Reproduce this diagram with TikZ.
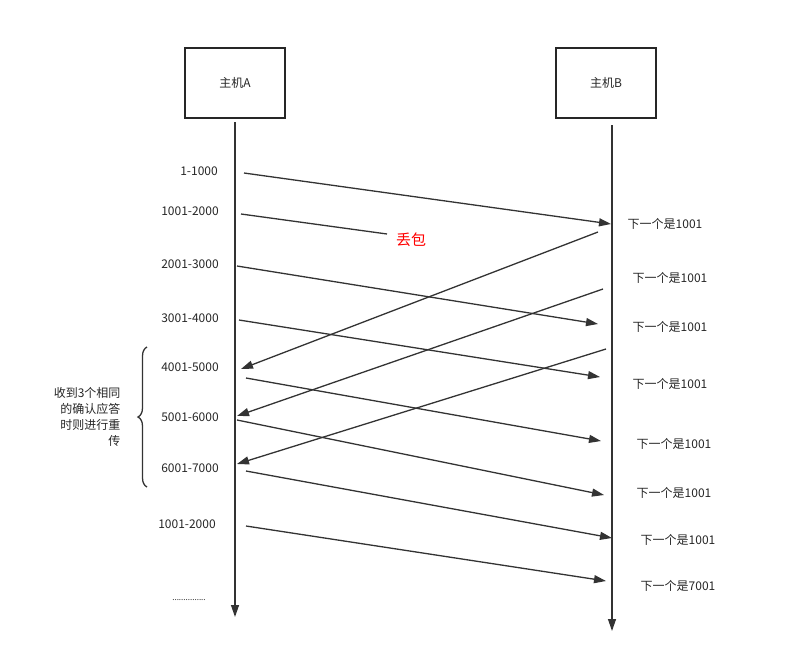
\documentclass[tikz,border=0pt]{standalone}
\usepackage{fontspec}
\setmainfont{Noto Sans CJK SC}
\usetikzlibrary{arrows.meta,decorations.pathreplacing}
\begin{document}
\begin{tikzpicture}[x=1pt,y=-1pt,
  every node/.style={font=\fontsize{12}{14}\selectfont, text=black!85},
  box/.style={draw=black!85,line width=1.3pt,minimum width=100pt,minimum height=70pt},
  life/.style={draw=black!80,line width=1.3pt,-{Triangle[length=12pt,width=8pt]}},
  msg/.style={draw=black!80,line width=1.3pt,-{Triangle[length=12pt,width=8pt]}},
  lbl/.style={anchor=center}]
\useasboundingbox (0,0) rectangle (790,659);
\node[box] (A) at (235,83) {主机A};
\node[box] (B) at (606,83) {主机B};
\coordinate (a0) at (235,122); \coordinate (a1) at (235,617);
\coordinate (b0) at (612,125); \coordinate (b1) at (612,631);
\draw[life] (a0) -- (a1);
\draw[life] (b0) -- (b1);
% A -> B
\foreach \n/\xa/\ya/\xb/\yb in {1/244/173/611/224, 3/237/266/598/324, 4/239/320/600/377, 5/246/378/601/441, 6/237/420/604/495, 7/246/471/612/538, 8/246/526/606/581}{
  \coordinate (s\n) at (\xa,\ya); \coordinate (e\n) at (\xb,\yb);
  \draw[msg] (s\n) -- (e\n);
}
\coordinate (s2) at (241,214); \coordinate (e2) at (387,234);
\draw[draw=black!80,line width=1.3pt] (s2) -- (e2);
\node[text=red,font=\fontsize{15}{17}\selectfont] (lost) at (411,240) {丢包};
% B -> A
\foreach \n/\xa/\ya/\xb/\yb in {1/598/232/241/369, 2/603/289/237/416, 3/606/349/237/464}{
  \coordinate (r\n) at (\xa,\ya); \coordinate (q\n) at (\xb,\yb);
  \draw[msg] (r\n) -- (q\n);
}
% left labels
\foreach \t/\x/\y in {1-1000/199/171, 1001-2000/190/211, 2001-3000/190/264, 3001-4000/190/318, 4001-5000/190/367, 5001-6000/190/417, 6001-7000/190/468, 1001-2000/187/524}{
  \node[lbl] at (\x,\y) {\t};
}
\node[lbl,font=\fontsize{8}{10}\selectfont] (dots) at (189,600) {...............};
% right labels
\foreach \t/\x/\y in {1001/665/224, 1001/670/278, 1001/670/327, 1001/670/384, 1001/674/444, 1001/674/493, 1001/678/540, 7001/678/586}{
  \node[lbl] at (\x,\y) {下一个是\t};
}
% brace
\coordinate (br0) at (147,487); \coordinate (br1) at (147,347);
\draw[draw=black!80,line width=1.3pt,decorate,decoration={brace,amplitude=9pt}] (br0) -- (br1);
\node[align=right,anchor=east,font=\fontsize{12}{16}\selectfont] (note) at (124,417) {收到3个相同\\的确认应答\\时则进行重\\传};
\end{tikzpicture}
\end{document}
